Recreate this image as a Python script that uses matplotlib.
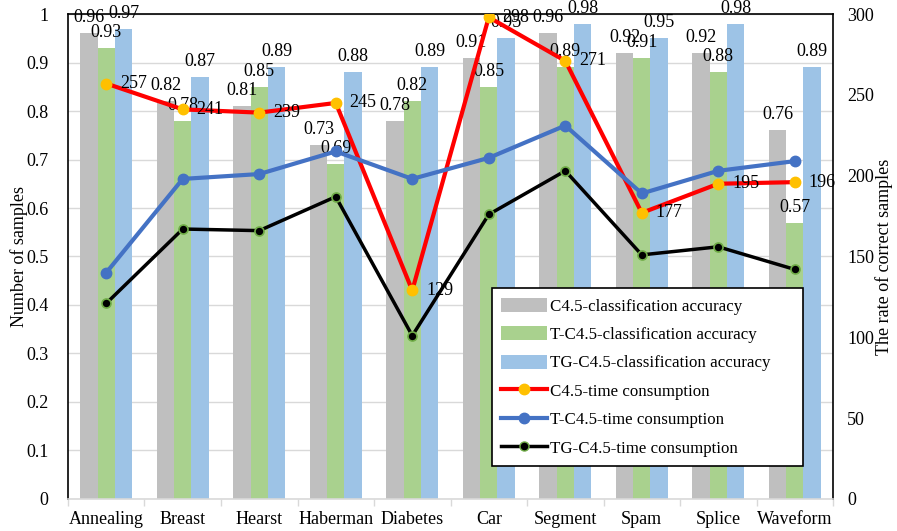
import matplotlib
matplotlib.use("Agg")
import matplotlib.pyplot as plt
import numpy as np
from matplotlib.lines import Line2D
from matplotlib.patches import Patch

plt.rcParams['font.family'] = ['Liberation Serif', 'DejaVu Serif']

datasets = ["Annealing", "Breast", "Hearst", "Haberman", "Diabetes",
            "Car", "Segment", "Spam", "Splice", "Waveform"]

acc_c45 = [0.96, 0.82, 0.81, 0.73, 0.78, 0.91, 0.96, 0.92, 0.92, 0.76]
acc_tc45 = [0.93, 0.78, 0.85, 0.69, 0.82, 0.85, 0.89, 0.91, 0.88, 0.57]
acc_tgc45 = [0.97, 0.87, 0.89, 0.88, 0.89, 0.95, 0.98, 0.95, 0.98, 0.89]

time_c45 = [257, 241, 239, 245, 129, 298, 271, 177, 195, 196]
time_tc45 = [140, 198, 201, 215, 198, 211, 231, 189, 203, 209]
time_tgc45 = [121, 167, 166, 187, 101, 176, 203, 151, 156, 142]

left_ticks = [0, 0.1, 0.2, 0.3, 0.4, 0.5, 0.6, 0.7, 0.8, 0.9, 1]
left_tick_labels = ["0", "0.1", "0.2", "0.3", "0.4", "0.5", "0.6", "0.7", "0.8", "0.9", "1"]
right_ticks = [0, 50, 100, 150, 200, 250, 300]

c_gray = "#BFBFBF"
c_green = "#A9D18E"
c_blue = "#9DC3E6"

fig = plt.figure(figsize=(8.97, 5.31), dpi=100)
ax = fig.add_axes([0.0758, 0.0603, 0.8529, 0.9133])
ax2 = ax.twinx()

x = np.arange(len(datasets))
w = 0.225

ax.set_axisbelow(True)
ax.yaxis.grid(True, color="#D9D9D9", linewidth=1.0)
bars1 = ax.bar(x - w, acc_c45, w, color=c_gray, zorder=2)
bars2 = ax.bar(x, acc_tc45, w, color=c_green, zorder=2)
bars3 = ax.bar(x + w, acc_tgc45, w, color=c_blue, zorder=2)

for bars, vals in ((bars1, acc_c45), (bars2, acc_tc45), (bars3, acc_tgc45)):
    for b, v in zip(bars, vals):
        ax.annotate(f"{v:.2f}", (b.get_x() + b.get_width() / 2, v),
                    xytext=(0, 5), textcoords="offset points",
                    ha="center", va="bottom", fontsize=13, zorder=5,
                    annotation_clip=False)

ax.set_xlim(-0.5, len(datasets) - 0.5)
ax.set_ylim(0, 1)
ax.set_yticks(left_ticks)
ax.set_yticklabels(left_tick_labels, fontsize=13)
ax.set_xticks(x)
ax.set_xticklabels(datasets, fontsize=13)
ax.tick_params(axis="x", length=0, pad=9)
ax.tick_params(axis="y", length=0, pad=14)
# category separators below the base line
ax.set_xticks(np.arange(-0.5, len(datasets) + 0.5, 1), minor=True)
ax.tick_params(axis="x", which="minor", length=5, color="#D9D9D9", width=1)
ax.set_ylabel("Number of samples", fontsize=13, labelpad=-1)

for side in ("left", "top", "right"):
    ax.spines[side].set_color("black")
    ax.spines[side].set_linewidth(1.2)
ax.spines["bottom"].set_color("#D9D9D9")
ax.spines["bottom"].set_linewidth(1.2)

ax2.plot(x, time_c45, color="#FF0000", linewidth=3, marker="o", markersize=7.5,
         markerfacecolor="#FFC000", markeredgecolor="#FFC000", zorder=3)
ax2.plot(x, time_tc45, color="#4472C4", linewidth=3, marker="o", markersize=7.5,
         markerfacecolor="#4472C4", markeredgecolor="#4472C4", zorder=3)
ax2.plot(x, time_tgc45, color="black", linewidth=2.5, marker="o", markersize=6.5,
         markerfacecolor="black", markeredgecolor="#70AD47", markeredgewidth=1.2, zorder=3)

for xi, v in zip(x, time_c45):
    ax2.annotate(str(v), (xi, v), xytext=(10, 0), textcoords="offset points",
                 ha="left", va="center", fontsize=13, zorder=5,
                 annotation_clip=False)

ax2.set_ylim(0, 300)
ax2.set_yticks(right_ticks)
ax2.set_yticklabels([str(t) for t in right_ticks], fontsize=13)
ax2.tick_params(axis="y", length=0, pad=10)
ax2.set_ylabel("The rate of correct samples", fontsize=13, labelpad=1)
for s in ax2.spines.values():
    s.set_visible(False)

handles = [
    Patch(facecolor=c_gray, edgecolor="none", label="C4.5-classification accuracy"),
    Patch(facecolor=c_green, edgecolor="none", label="T-C4.5-classification accuracy"),
    Patch(facecolor=c_blue, edgecolor="none", label="TG-C4.5-classification accuracy"),
    Line2D([], [], color="#FF0000", linewidth=3, marker="o", markersize=7.5,
           markerfacecolor="#FFC000", markeredgecolor="#FFC000",
           label="C4.5-time consumption"),
    Line2D([], [], color="#4472C4", linewidth=3, marker="o", markersize=7.5,
           label="T-C4.5-time consumption"),
    Line2D([], [], color="black", linewidth=2.5, marker="o", markersize=6.5,
           markerfacecolor="black", markeredgecolor="#70AD47",
           label="TG-C4.5-time consumption"),
]
leg = ax2.legend(handles=handles, loc="lower left",
                 bbox_to_anchor=(0.554, 0.068, 0.407, 0.361), mode="expand",
                 fontsize=12.2, frameon=True, fancybox=False, framealpha=1,
                 edgecolor="black", borderpad=0.55, labelspacing=0.68,
                 handlelength=2.7, handletextpad=0.2, handleheight=0.9,
                 borderaxespad=0)
leg.get_frame().set_linewidth(1.2)
leg.set_zorder(10)

fig.savefig("out.png", dpi=100)
